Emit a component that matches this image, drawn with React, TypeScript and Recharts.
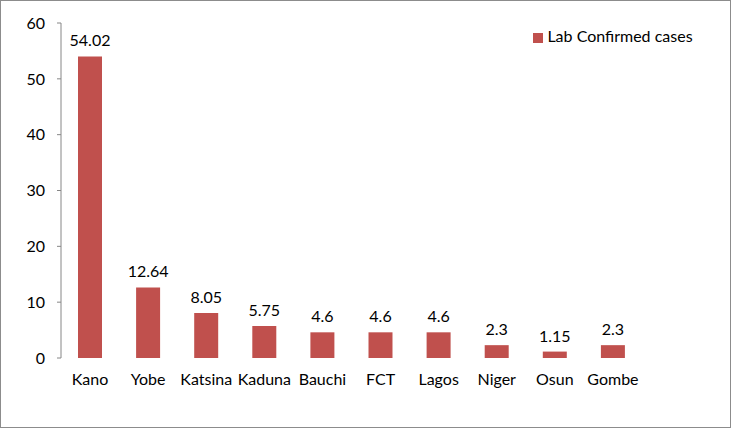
import { Bar, BarChart, LabelList, Legend, XAxis, YAxis } from "recharts";

const states = ["Kano", "Yobe", "Katsina", "Kaduna", "Bauchi", "FCT", "Lagos", "Niger", "Osun", "Gombe"];
const labConfirmed = [54.02, 12.64, 8.05, 5.75, 4.6, 4.6, 4.6, 2.3, 1.15, 2.3];
const yTicks = [0, 10, 20, 30, 40, 50, 60];
const bandEdges = [0, 1, 2, 3, 4, 5, 6, 7, 8, 9, 10];

const data = states.map((name, i) => ({ name, idx: i + 0.5, cases: labConfirmed[i] }));

const FONT = "Lato, 'Open Sans', sans-serif";
const AXIS = "#868686";
const BAR = "#C0504D";

export default function App() {
  return (
    <div
      style={{
        position: "relative",
        width: 731,
        height: 428,
        boxSizing: "border-box",
        border: "1px solid #8c8c8c",
        background: "#fff",
        fontFamily: FONT,
      }}
    >
      <style>{"body{margin:0}"}</style>
      <div style={{ position: "absolute", left: -1, top: -1 }}>
        <BarChart
          width={731}
          height={428}
          data={data}
          margin={{ top: 23, right: 89, left: 0, bottom: 40 }}
          barCategoryGap={0}
        >
          <XAxis
            xAxisId="edges"
            type="number"
            dataKey="idx"
            domain={[0, 10]}
            ticks={bandEdges}
            tick={false}
            tickSize={5}
            height={0}
            stroke={AXIS}
            allowDataOverflow
          />
          <XAxis
            dataKey="name"
            axisLine={false}
            tickLine={false}
            height={30}
            tickMargin={10}
            interval={0}
            tick={{ fill: "#000", fontSize: 16, fontFamily: FONT }}
          />
          <YAxis
            domain={[0, 60]}
            ticks={yTicks}
            width={61}
            tickSize={4}
            tickMargin={12}
            stroke={AXIS}
            tick={{ fill: "#000", fontSize: 16, fontFamily: FONT }}
          />
          <Legend
            verticalAlign="middle"
            align="center"
            iconType="square"
            iconSize={10}
            wrapperStyle={{ top: 26, left: 518, width: 200, fontSize: 16, fontFamily: FONT }}
            formatter={(v: string) => <span style={{ color: "#000" }}>{v}</span>}
          />
          <Bar
            dataKey="cases"
            name="Lab Confirmed cases"
            fill={BAR}
            barSize={24}
            isAnimationActive={false}
          >
            <LabelList
              dataKey="cases"
              position="top"
              offset={10}
              fill="#000"
              fontSize={16}
              fontFamily={FONT}
            />
          </Bar>
        </BarChart>
      </div>
    </div>
  );
}
